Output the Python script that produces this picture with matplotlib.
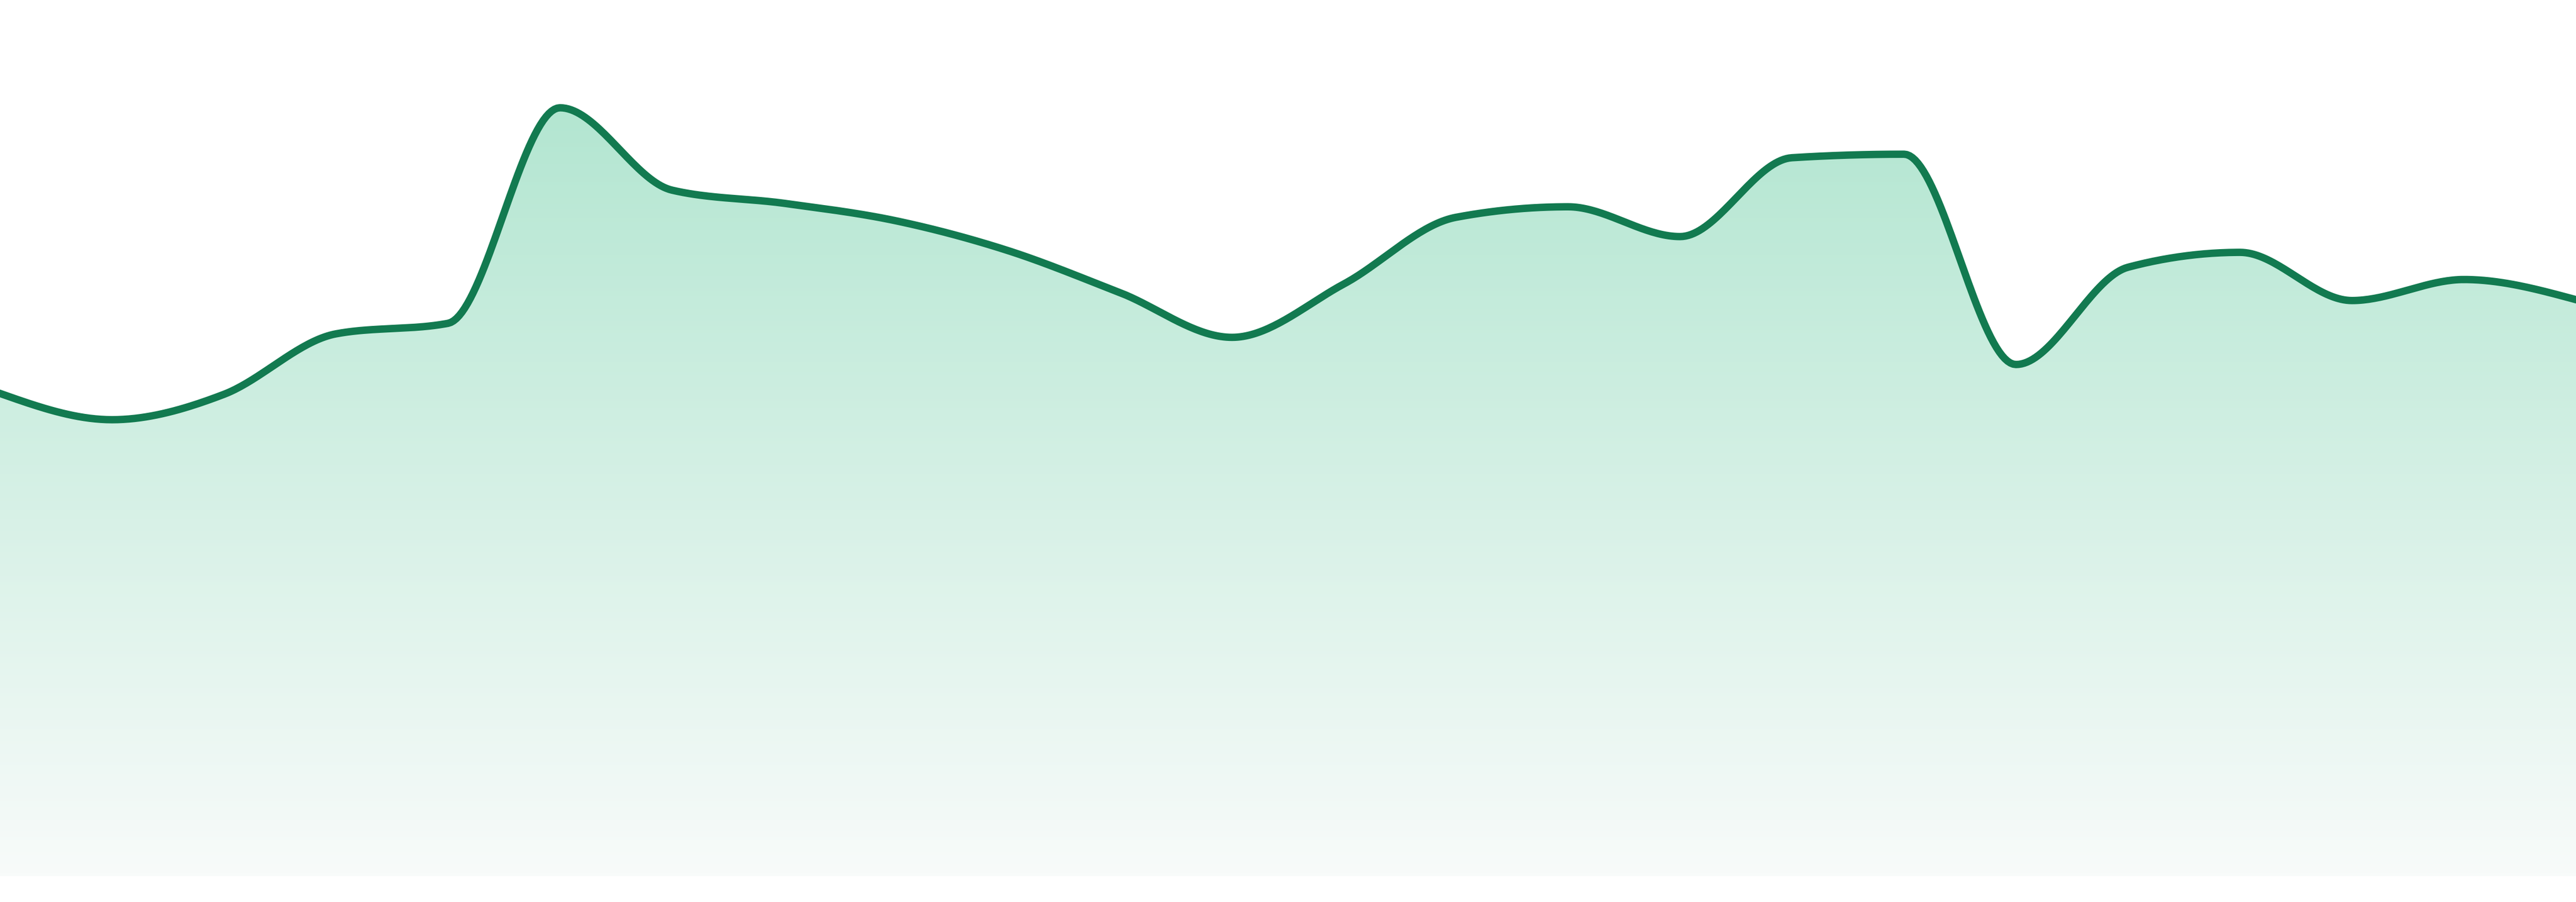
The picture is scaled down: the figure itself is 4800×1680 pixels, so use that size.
import numpy as np
import matplotlib
matplotlib.use("Agg")
import matplotlib.pyplot as plt
from matplotlib.colors import LinearSegmentedColormap

# values, one per evenly spaced step
steps = list(range(24))
values = [55.1, 52.1, 55.0, 61.9, 63.1, 87.7, 78.3, 76.8, 74.8, 71.4, 66.6, 61.5,
          67.6, 75.2, 76.4, 73.0, 82.0, 82.4, 58.4, 69.5, 71.2, 65.7, 68.1, 65.8]

LINE_COLOR = "#127a50"
FILL_TOP = "#b3e6d1"
FILL_BOTTOM = "#f8fbfa"


def monotone_x(x, y, n=40):
    # same slopes as d3.curveMonotoneX, then cubic hermite between points
    x = np.asarray(x, float)
    y = np.asarray(y, float)
    h = np.diff(x)
    s = np.diff(y) / h
    t = np.zeros_like(y)
    for i in range(1, len(x) - 1):
        p = (s[i - 1] * h[i] + s[i] * h[i - 1]) / (h[i - 1] + h[i])
        t[i] = (np.sign(s[i - 1]) + np.sign(s[i])) * min(abs(s[i - 1]), abs(s[i]), 0.5 * abs(p))
    t[0] = (3 * s[0] - t[1]) / 2
    t[-1] = (3 * s[-1] - t[-2]) / 2
    xs, ys = [], []
    for i in range(len(x) - 1):
        u = np.linspace(0, 1, n, endpoint=(i == len(x) - 2))
        h00 = 2 * u**3 - 3 * u**2 + 1
        h10 = u**3 - 2 * u**2 + u
        h01 = -2 * u**3 + 3 * u**2
        h11 = u**3 - u**2
        xs.append(x[i] + u * h[i])
        ys.append(h00 * y[i] + h10 * h[i] * t[i] + h01 * y[i + 1] + h11 * h[i] * t[i + 1])
    return np.concatenate(xs), np.concatenate(ys)


fig = plt.figure(figsize=(16, 5.6), dpi=300)
ax = fig.add_axes([0, 0, 1, 1])
ax.axis("off")

# bottom of the area sits a little above the figure edge
base = 0.0
y_top = 100.0
y_bottom = base - (1680 - 1632) / 1632 * (y_top - base)
ax.set_xlim(steps[0], steps[-1])
ax.set_ylim(y_bottom, y_top)

xs, ys = monotone_x(steps, values)

# gradient fill, clipped by the area under the curve
area = ax.fill_between(xs, ys, base, color="none", lw=0)
cmap = LinearSegmentedColormap.from_list("fade", [FILL_BOTTOM, FILL_TOP])
grad = np.linspace(0, 1, 256).reshape(-1, 1)
img = ax.imshow(grad, cmap=cmap, aspect="auto", origin="lower",
                extent=[steps[0], steps[-1], base, max(values)], zorder=1)
img.set_clip_path(area.get_paths()[0], transform=ax.transData)

ax.plot(xs, ys, color=LINE_COLOR, lw=3.3, solid_joinstyle="round", zorder=3)

fig.savefig("out.png", dpi=300, facecolor="white")
